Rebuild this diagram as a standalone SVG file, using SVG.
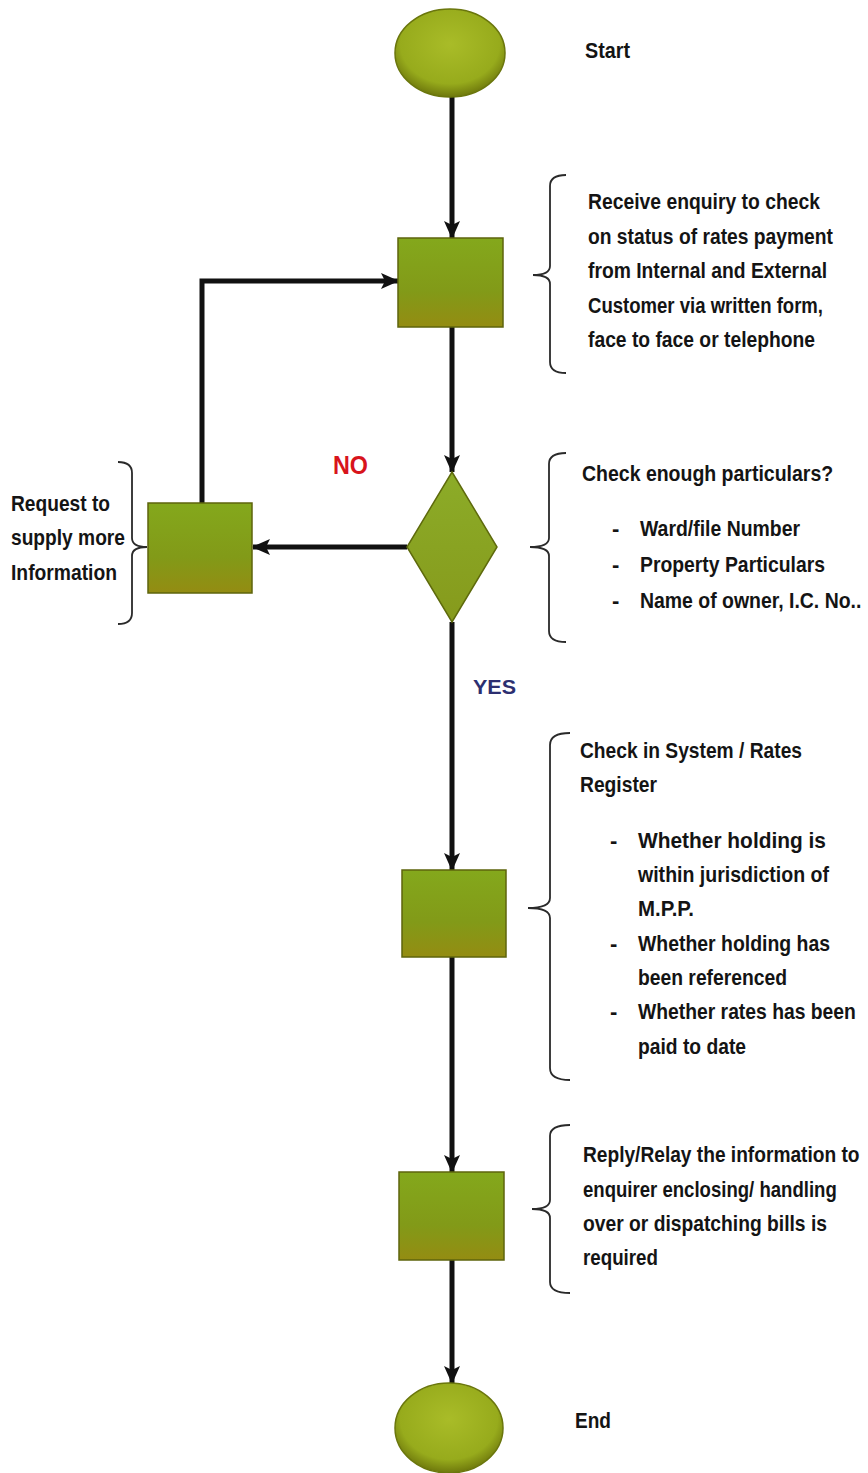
<svg xmlns="http://www.w3.org/2000/svg" width="868" height="1473" viewBox="0 0 868 1473">
<defs>
<radialGradient id="gEll" cx="0.5" cy="0.4" r="0.6">
<stop offset="0" stop-color="#a9bc28"/>
<stop offset="0.75" stop-color="#97ab1c"/>
<stop offset="1" stop-color="#6e780c"/>
</radialGradient>
<linearGradient id="gBox" x1="0" y1="0" x2="0" y2="1">
<stop offset="0" stop-color="#84a81c"/>
<stop offset="0.6" stop-color="#829a18"/>
<stop offset="1" stop-color="#948c12"/>
</linearGradient>
<linearGradient id="gDia" x1="0" y1="0" x2="0" y2="1">
<stop offset="0" stop-color="#8cac28"/>
<stop offset="1" stop-color="#869a1c"/>
</linearGradient>
<marker id="arr" viewBox="0 0 18 16" refX="17" refY="8" markerWidth="18" markerHeight="16" markerUnits="userSpaceOnUse" orient="auto">
<path d="M0,0 L18,8 L0,16 L4,8 z" fill="#111"/>
</marker>
<style>
.conn{fill:none;stroke:#111;stroke-width:5}
.box{fill:url(#gBox);stroke:#5e640c;stroke-width:1.5}
.ell{fill:url(#gEll);stroke:#6a760c;stroke-width:1.5}
.dia{fill:url(#gDia);stroke:#5e6a0c;stroke-width:1.5}
.brace{fill:none;stroke:#2a2a2a;stroke-width:1.8}
.t{font-family:"Liberation Sans",Arial,sans-serif;font-weight:bold;font-size:22px;fill:#141414}
.no{font-family:"Liberation Sans",Arial,sans-serif;font-weight:bold;font-size:25px;fill:#d8141c}
.yes{font-family:"Liberation Sans",Arial,sans-serif;font-weight:bold;font-size:21px;fill:#2c2f70}
</style>
</defs>

<g id="connectors">
<line class="conn" x1="452" y1="97" x2="452" y2="238" marker-end="url(#arr)"/>
<line class="conn" x1="452" y1="327" x2="452" y2="472" marker-end="url(#arr)"/>
<line class="conn" x1="407" y1="547" x2="253" y2="547" marker-end="url(#arr)"/>
<polyline class="conn" points="202,503 202,281 398,281" marker-end="url(#arr)"/>
<line class="conn" x1="452" y1="622" x2="452" y2="870" marker-end="url(#arr)"/>
<line class="conn" x1="452" y1="957" x2="452" y2="1172" marker-end="url(#arr)"/>
<line class="conn" x1="452" y1="1260" x2="452" y2="1383" marker-end="url(#arr)"/>
</g>

<g id="start">
<ellipse class="ell" cx="450" cy="53" rx="55" ry="44"/>
<text class="t" x="585" y="58" textLength="45" lengthAdjust="spacingAndGlyphs">Start</text>
</g>

<g id="receive">
<rect class="box" x="398" y="238" width="105" height="89"/>
<path class="brace" d="M566,175 Q550,175 550,186 L550,266 Q550,275 533,275 Q550,275 550,284 L550,362 Q550,373 566,373"/>
<text class="t" x="588" y="209" textLength="232" lengthAdjust="spacingAndGlyphs">Receive enquiry to check</text>
<text class="t" x="588" y="243.5" textLength="245" lengthAdjust="spacingAndGlyphs">on status of rates payment</text>
<text class="t" x="588" y="278" textLength="239" lengthAdjust="spacingAndGlyphs">from Internal and External</text>
<text class="t" x="588" y="312.5" textLength="235" lengthAdjust="spacingAndGlyphs">Customer via written form,</text>
<text class="t" x="588" y="347" textLength="227" lengthAdjust="spacingAndGlyphs">face to face or telephone</text>
</g>

<g id="decision">
<polygon class="dia" points="452,472 497,547 452,622 407,547"/>
<text class="no" x="333" y="474" textLength="35" lengthAdjust="spacingAndGlyphs">NO</text>
<text class="yes" x="473" y="694" textLength="43" lengthAdjust="spacingAndGlyphs">YES</text>
<path class="brace" d="M566,453 Q549,453 549,464 L549,538 Q549,547 530,547 Q549,547 549,556 L549,631 Q549,642 566,642"/>
<text class="t" transform="translate(582,481) scale(0.875,1)" x="0" y="0" textLength="287" lengthAdjust="spacingAndGlyphs">Check enough particulars?</text>
<text class="t" x="612" y="536">-</text>
<text class="t" x="640" y="536" textLength="160" lengthAdjust="spacingAndGlyphs">Ward/file Number</text>
<text class="t" x="612" y="572">-</text>
<text class="t" x="640" y="572" textLength="185" lengthAdjust="spacingAndGlyphs">Property Particulars</text>
<text class="t" x="612" y="608">-</text>
<text class="t" transform="translate(640,608) scale(0.875,1)" x="0" y="0" textLength="253" lengthAdjust="spacingAndGlyphs">Name of owner, I.C. No..</text>
</g>

<g id="request">
<rect class="box" x="148" y="503" width="104" height="90"/>
<path class="brace" d="M118,462 Q132,462 132,473 L132,538 Q132,547 147,547 Q132,547 132,556 L132,613 Q132,624 118,624"/>
<text class="t" x="11" y="511" textLength="99" lengthAdjust="spacingAndGlyphs">Request to</text>
<text class="t" x="11" y="545" textLength="114" lengthAdjust="spacingAndGlyphs">supply more</text>
<text class="t" x="11" y="580" textLength="106" lengthAdjust="spacingAndGlyphs">Information</text>
</g>

<g id="check-system">
<rect class="box" x="402" y="870" width="104" height="87"/>
<path class="brace" d="M570,733 Q550,733 550,745 L550,898 Q550,908 528,908 Q550,908 550,918 L550,1068 Q550,1080 570,1080"/>
<text class="t" x="580" y="758" textLength="222" lengthAdjust="spacingAndGlyphs">Check in System / Rates</text>
<text class="t" x="580" y="792" textLength="77" lengthAdjust="spacingAndGlyphs">Register</text>
<text class="t" x="610" y="848">-</text>
<text class="t" x="638" y="848" textLength="188" lengthAdjust="spacingAndGlyphs">Whether holding is</text>
<text class="t" x="638" y="882" textLength="191" lengthAdjust="spacingAndGlyphs">within jurisdiction of</text>
<text class="t" x="638" y="916" textLength="56" lengthAdjust="spacingAndGlyphs">M.P.P.</text>
<text class="t" x="610" y="951">-</text>
<text class="t" x="638" y="951" textLength="192" lengthAdjust="spacingAndGlyphs">Whether holding has</text>
<text class="t" x="638" y="985" textLength="149" lengthAdjust="spacingAndGlyphs">been referenced</text>
<text class="t" x="610" y="1019">-</text>
<text class="t" transform="translate(638,1019) scale(0.875,1)" x="0" y="0" textLength="249" lengthAdjust="spacingAndGlyphs">Whether rates has been</text>
<text class="t" x="638" y="1054" textLength="108" lengthAdjust="spacingAndGlyphs">paid to date</text>
</g>

<g id="reply">
<rect class="box" x="399" y="1172" width="105" height="88"/>
<path class="brace" d="M570,1125 Q550,1125 550,1136 L550,1200 Q550,1209 532,1209 Q550,1209 550,1218 L550,1282 Q550,1293 570,1293"/>
<text class="t" transform="translate(583,1162) scale(0.875,1)" x="0" y="0" textLength="316" lengthAdjust="spacingAndGlyphs">Reply/Relay the information to</text>
<text class="t" transform="translate(583,1197) scale(0.875,1)" x="0" y="0" textLength="290" lengthAdjust="spacingAndGlyphs">enquirer enclosing/ handling</text>
<text class="t" x="583" y="1231" textLength="244" lengthAdjust="spacingAndGlyphs">over or dispatching bills is</text>
<text class="t" x="583" y="1265" textLength="75" lengthAdjust="spacingAndGlyphs">required</text>
</g>

<g id="end">
<ellipse class="ell" cx="449" cy="1428" rx="54" ry="45"/>
<text class="t" x="575" y="1428" textLength="36" lengthAdjust="spacingAndGlyphs">End</text>
</g>
</svg>
